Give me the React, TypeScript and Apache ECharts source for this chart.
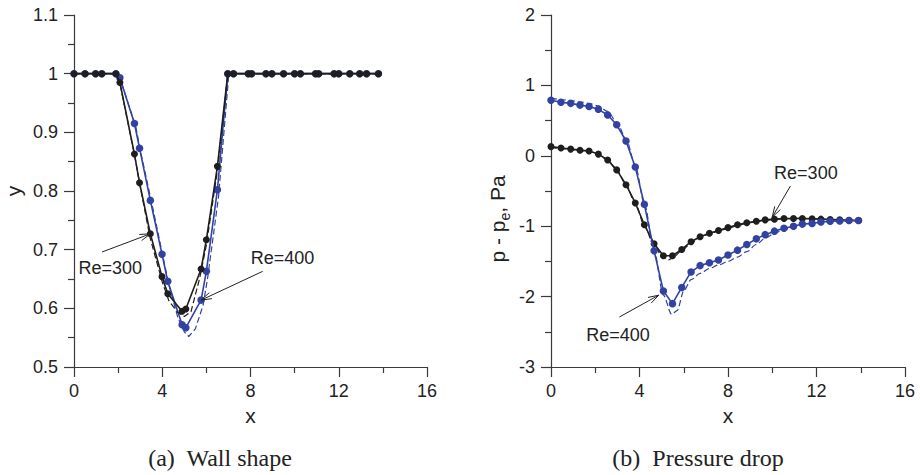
import React, { useEffect, useRef } from "react";
import * as echarts from "echarts";

// ---------- (a) Wall shape ----------
const wallX = [0, 0.5, 0.98, 1.26, 1.9, 2.08, 2.74, 2.97, 3.46, 3.99, 4.25, 4.9, 5.07, 5.76, 6.0, 6.5, 6.97, 7.23, 7.9, 8.05, 8.7, 8.97, 9.5, 10.0, 10.26, 10.95, 11.09, 11.79, 12.0, 12.5, 12.95, 13.26, 13.8];
const wallRe300 = [1, 1, 1, 1, 1, 0.985, 0.863, 0.814, 0.727, 0.654, 0.625, 0.595, 0.599, 0.667, 0.717, 0.842, 1, 1, 1, 1, 1, 1, 1, 1, 1, 1, 1, 1, 1, 1, 1, 1, 1];
const wallRe400 = [1, 1, 1, 1, 1, 0.993, 0.915, 0.873, 0.784, 0.692, 0.646, 0.572, 0.567, 0.614, 0.663, 0.802, 1, 1, 1, 1, 1, 1, 1, 1, 1, 1, 1, 1, 1, 1, 1, 1, 1];
const wallRe300RefX = [0, 1.9, 2.1, 2.75, 3.0, 3.45, 4.0, 4.3, 4.7, 5.0, 5.3, 5.7, 6.0, 6.5, 6.98, 13.8];
const wallRe300RefY = [1, 1, 0.98, 0.86, 0.808, 0.72, 0.645, 0.613, 0.593, 0.586, 0.594, 0.652, 0.708, 0.835, 1, 1];
const wallRe400RefX = [0, 1.9, 2.1, 2.8, 3.0, 3.55, 4.05, 4.3, 4.7, 5.0, 5.2, 5.5, 5.85, 6.05, 6.55, 7.02, 13.8];
const wallRe400RefY = [1, 1, 0.99, 0.91, 0.87, 0.775, 0.685, 0.64, 0.585, 0.56, 0.552, 0.565, 0.605, 0.65, 0.79, 1, 1];

// ---------- (b) Pressure drop ----------
const presX = [0, 0.45, 0.89, 1.31, 1.72, 2.14, 2.56, 2.97, 3.39, 3.81, 4.22, 4.66, 5.08, 5.49, 5.91, 6.33, 6.74, 7.16, 7.57, 8.0, 8.43, 8.85, 9.28, 9.68, 10.1, 10.53, 10.96, 11.36, 11.8, 12.2, 12.62, 13.05, 13.47, 13.9];
const presRe300 = [0.13, 0.11, 0.095, 0.08, 0.067, 0.024, -0.06, -0.2, -0.41, -0.67, -0.98, -1.25, -1.42, -1.42, -1.33, -1.22, -1.15, -1.1, -1.06, -1.02, -0.98, -0.95, -0.93, -0.91, -0.9, -0.89, -0.89, -0.89, -0.895, -0.9, -0.905, -0.91, -0.915, -0.92];
const presRe400 = [0.79, 0.76, 0.745, 0.72, 0.7, 0.66, 0.58, 0.44, 0.21, -0.16, -0.69, -1.35, -1.92, -2.1, -1.87, -1.65, -1.56, -1.52, -1.48, -1.41, -1.34, -1.26, -1.18, -1.12, -1.07, -1.03, -1.0, -0.97, -0.96, -0.94, -0.93, -0.925, -0.92, -0.92];
const presRe300RefX = [0, 0.45, 0.89, 1.31, 1.72, 2.14, 2.56, 2.97, 3.39, 3.81, 4.22, 4.66, 5.08, 5.3, 5.49, 5.91, 6.33, 6.74, 7.16, 7.57, 8.0, 8.43, 8.85, 9.28, 9.68, 10.1, 10.53, 10.96, 11.36, 11.8, 12.2, 12.62, 13.05, 13.47, 13.9];
const presRe300RefY = [0.12, 0.105, 0.09, 0.075, 0.06, 0.02, -0.06, -0.2, -0.41, -0.68, -0.99, -1.28, -1.45, -1.48, -1.45, -1.35, -1.24, -1.16, -1.11, -1.07, -1.03, -0.99, -0.96, -0.935, -0.915, -0.905, -0.895, -0.89, -0.89, -0.895, -0.9, -0.905, -0.91, -0.915, -0.92];
const presRe400RefX = [0, 0.45, 0.89, 1.31, 1.72, 2.14, 2.56, 2.97, 3.39, 3.81, 4.22, 4.66, 5.08, 5.45, 5.7, 6.0, 6.33, 6.74, 7.16, 7.57, 8.0, 8.43, 8.85, 9.28, 9.68, 10.1, 10.53, 10.96, 11.36, 11.8, 12.2, 12.62, 13.05, 13.47, 13.9];
const presRe400RefY = [0.82, 0.8, 0.785, 0.765, 0.745, 0.71, 0.63, 0.48, 0.24, -0.14, -0.68, -1.35, -1.98, -2.25, -2.2, -1.92, -1.76, -1.67, -1.6, -1.55, -1.5, -1.44, -1.36, -1.26, -1.17, -1.1, -1.05, -1.01, -0.985, -0.965, -0.95, -0.94, -0.93, -0.925, -0.92];

// ---------- annotations (data coordinates) ----------
const annotations = [
  { grid: 0, label: "Re=300", at: [1.64, 0.669], from: [1.27, 0.696], to: [3.46, 0.727] },
  { grid: 0, label: "Re=400", at: [9.45, 0.686], from: [8.55, 0.663], to: [5.76, 0.614] },
  { grid: 1, label: "Re=300", at: [11.52, -0.25], from: [10.82, -0.43], to: [10.0, -0.87] },
  { grid: 1, label: "Re=400", at: [3.03, -2.54], from: [3.09, -2.29], to: [4.87, -1.98] },
];
const captions = ["(a)  Wall shape", "(b)  Pressure drop"];

const BLACK = "#1e1e1e";
const BLUE = "#3242a2";
const AXIS = "#3a3a3a";
const SANS = "Liberation Sans";

const zip = (xs: number[], ys: number[]) => xs.map((x, i) => [x, ys[i]]);

function fmt(v: number) {
  return String(parseFloat(v.toFixed(2)));
}

function xAxisCfg(gridIndex: number) {
  return {
    type: "value",
    gridIndex,
    min: 0,
    max: 16,
    interval: 4,
    name: "x",
    nameLocation: "middle",
    nameGap: 38,
    nameTextStyle: { fontFamily: SANS, fontSize: 21, color: "#222" },
    axisLine: { onZero: false, lineStyle: { color: AXIS, width: 1.2 } },
    axisTick: { show: true, inside: false, length: 10, lineStyle: { color: AXIS, width: 1.2 } },
    minorTick: { show: true, splitNumber: 2, length: 6, lineStyle: { color: AXIS, width: 1.2 } },
    splitLine: { show: false },
    minorSplitLine: { show: false },
    axisLabel: { fontFamily: SANS, fontSize: 18, color: "#222", margin: 15, formatter: fmt },
  };
}

function yAxisCfg(gridIndex: number, min: number, max: number, interval: number, name: string) {
  return {
    type: "value",
    gridIndex,
    min,
    max,
    interval,
    name,
    nameLocation: "middle",
    nameGap: 50,
    nameTextStyle: { fontFamily: SANS, fontSize: 21, color: "#222" },
    axisLine: { onZero: false, lineStyle: { color: AXIS, width: 1.2 } },
    axisTick: { show: true, inside: false, length: 10, lineStyle: { color: AXIS, width: 1.2 } },
    minorTick: { show: true, splitNumber: 2, length: 6, lineStyle: { color: AXIS, width: 1.2 } },
    splitLine: { show: false },
    minorSplitLine: { show: false },
    axisLabel: { fontFamily: SANS, fontSize: 18, color: "#222", margin: 16, formatter: fmt },
  };
}

function solid(name: string, data: number[][], color: string, idx: number, size: number, z: number) {
  return {
    name,
    type: "line",
    xAxisIndex: idx,
    yAxisIndex: idx,
    data,
    symbol: "circle",
    symbolSize: size,
    showSymbol: true,
    z,
    itemStyle: { color },
    lineStyle: { color, width: 1.6 },
  };
}

function dashed(name: string, data: number[][], color: string, idx: number, z: number, smooth: number) {
  return {
    name,
    type: "line",
    xAxisIndex: idx,
    yAxisIndex: idx,
    data,
    symbol: "none",
    smooth,
    smoothMonotone: "x",
    z,
    lineStyle: { color, width: 1.2, type: [6, 3] },
  };
}

export default function App() {
  const ref = useRef<HTMLDivElement>(null);

  useEffect(() => {
    if (!ref.current) return;
    const chart = echarts.init(ref.current, null, { renderer: "svg" });
    const option: any = {
      animation: false,
      backgroundColor: "#fff",
      grid: [
        { left: 74, top: 15, width: 353, height: 352 },
        { left: 551, top: 15, width: 354, height: 352 },
      ],
      xAxis: [xAxisCfg(0), xAxisCfg(1)],
      yAxis: [yAxisCfg(0, 0.5, 1.1, 0.1, "y"), yAxisCfg(1, -3, 2, 1, "")],
      series: [
        dashed("Re=400 ref", zip(wallRe400RefX, wallRe400RefY), BLUE, 0, 2, 0),
        solid("Re=400", zip(wallX, wallRe400), BLUE, 0, 7.5, 3),
        dashed("Re=300 ref", zip(wallRe300RefX, wallRe300RefY), BLACK, 0, 4, 0),
        solid("Re=300", zip(wallX, wallRe300), BLACK, 0, 7, 5),
        dashed("Re=300 ref p", zip(presRe300RefX, presRe300RefY), BLACK, 1, 2, 0.3),
        solid("Re=300 p", zip(presX, presRe300), BLACK, 1, 7, 3),
        dashed("Re=400 ref p", zip(presRe400RefX, presRe400RefY), BLUE, 1, 4, 0.3),
        solid("Re=400 p", zip(presX, presRe400), BLUE, 1, 7.5, 5),
      ],
    };
    chart.setOption(option);

    const graphics: any[] = [];
    annotations.forEach((a) => {
      const t = chart.convertToPixel({ gridIndex: a.grid } as any, a.at) as number[];
      const p0 = chart.convertToPixel({ gridIndex: a.grid } as any, a.from) as number[];
      const p1 = chart.convertToPixel({ gridIndex: a.grid } as any, a.to) as number[];
      graphics.push({
        type: "text",
        x: t[0],
        y: t[1],
        z: 100,
        style: { text: a.label, fontFamily: SANS, fontSize: 18, fill: "#222", align: "center", verticalAlign: "middle" },
      });
      graphics.push({
        type: "line",
        z: 100,
        shape: { x1: p0[0], y1: p0[1], x2: p1[0], y2: p1[1] },
        style: { stroke: "#222", lineWidth: 1 },
      });
      const ang = Math.atan2(p1[1] - p0[1], p1[0] - p0[0]);
      const L = 11;
      const h = 0.3;
      graphics.push({
        type: "polyline",
        z: 100,
        shape: {
          points: [
            [p1[0] - L * Math.cos(ang - h), p1[1] - L * Math.sin(ang - h)],
            [p1[0], p1[1]],
            [p1[0] - L * Math.cos(ang + h), p1[1] - L * Math.sin(ang + h)],
          ],
        },
        style: { stroke: "#222", lineWidth: 1, fill: null },
      });
    });

    // right y-axis title with subscript
    graphics.push({
      type: "text",
      x: 496,
      y: 219,
      rotation: Math.PI / 2,
      z: 100,
      style: {
        text: "{a|p - p}{b|e}{a|, Pa}",
        align: "center",
        verticalAlign: "middle",
        fill: "#222",
        rich: {
          a: { fontFamily: SANS, fontSize: 21, fill: "#222", lineHeight: 24, verticalAlign: "bottom" },
          b: { fontFamily: SANS, fontSize: 14, fill: "#222", lineHeight: 14, verticalAlign: "bottom", padding: [0, 0, -4, 0] },
        },
      },
    });

    // captions
    const capX = [220, 698];
    captions.forEach((c, i) => {
      graphics.push({
        type: "text",
        x: capX[i],
        y: 458,
        style: { text: c, fontFamily: "Liberation Serif", fontSize: 24, fill: "#222", align: "center", verticalAlign: "middle" },
      });
    });

    chart.setOption({ graphic: graphics });

    return () => chart.dispose();
  }, []);

  return (
    <div
      ref={ref}
      style={{ position: "fixed", left: 0, top: 0, width: 920, height: 475, background: "#fff" }}
    />
  );
}
